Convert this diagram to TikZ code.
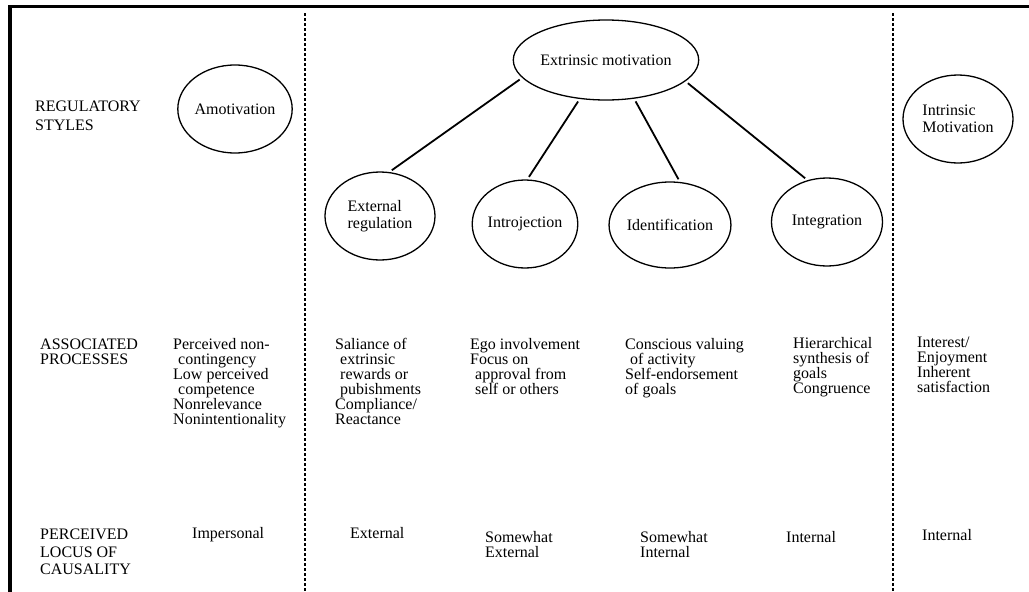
\documentclass[tikz,border=0pt]{standalone}
\usepackage{fontspec}
\setmainfont{Liberation Serif}
\usetikzlibrary{positioning,shapes}

\begin{document}
\begin{tikzpicture}[x=10pt,y=10pt]
\tikzstyle{every node}+=[inner sep=0pt]
\tikzstyle{motiv}=[draw, ellipse, line width=1.3pt, align=left, font=\fontsize{16}{17}\selectfont]
\tikzstyle{proc}=[anchor=north west, align=left, font=\fontsize{16}{15}\selectfont]
\tikzstyle{link}=[line width=1.8pt, shorten <=3pt, shorten >=3pt]
\tikzstyle{divider}=[line width=1.1pt, dash pattern=on 3pt off 2pt]
\useasboundingbox (0,0) rectangle (102.9,-59.2);
\draw [line width=3.5pt] (0.8,-0.65) -- (102.9,-0.65);
\draw [line width=3.5pt] (1.0,-0.65) -- (1.0,-59.2);
\draw [divider] (30.5,-1.3) -- (30.5,-59.2);
\draw [divider] (89.3,-1.3) -- (89.3,-59.2);
% regulatory styles
\node [motiv, minimum width=108pt, minimum height=88pt] (amot) at (23.5,-10.9) {Amotivation};
\node [motiv, minimum width=161pt, minimum height=80pt] (extr) at (60.6,-6.0) {Extrinsic motivation};
\node [motiv, minimum width=110pt, minimum height=88pt] (intr) at (95.8,-11.9) {Intrinsic\\Motivation};
\node [motiv, minimum width=110pt, minimum height=88pt] (extreg) at (38.0,-21.6) {External\\regulation};
\node [motiv, minimum width=104pt, minimum height=88pt] (introj) at (52.5,-22.4) {Introjection};
\node [motiv, minimum width=110pt, minimum height=86pt] (ident) at (67.0,-22.5) {Identification};
\node [motiv, minimum width=111pt, minimum height=88pt] (integ) at (82.7,-22.2) {Integration};
\draw [link] (extr.192) -- (extreg.78);
\draw [link] (extr.236) -- (introj.87);
\draw [link] (extr.306) -- (ident.77);
\draw [link] (extr.345) -- (integ.115);
% row heads
\node [proc, font=\fontsize{16}{19}\selectfont] (reghead) at (3.5,-10.1) {REGULATORY\\STYLES};
\node [proc] (prochead) at (4.0,-33.9) {ASSOCIATED\\PROCESSES};
\node [proc, font=\fontsize{16}{17.5}\selectfont] (locushead) at (4.0,-52.9) {PERCEIVED\\LOCUS OF\\CAUSALITY};
% associated processes
\node [proc] (amotproc) at (17.3,-33.8) {Perceived non-\\\hspace*{5pt}contingency\\Low perceived\\\hspace*{5pt}competence\\Nonrelevance\\Nonintentionality};
\node [proc] (extregproc) at (33.5,-33.8) {Saliance of\\\hspace*{5pt}extrinsic\\\hspace*{5pt}rewards or\\\hspace*{5pt}pubishments\\Compliance/\\Reactance};
\node [proc] (introjproc) at (47.0,-33.8) {Ego involvement\\Focus on\\\hspace*{5pt}approval from\\\hspace*{5pt}self or others};
\node [proc] (identproc) at (62.5,-33.8) {Conscious valuing\\\hspace*{5pt}of activity\\Self-endorsement\\of goals};
\node [proc] (integproc) at (79.3,-33.7) {Hierarchical\\synthesis of\\goals\\Congruence};
\node [proc] (intrproc) at (91.7,-33.7) {Interest/\\Enjoyment\\Inherent\\satisfaction};
% perceived locus of causality
\node [proc] (amotlocus) at (19.2,-52.7) {Impersonal};
\node [proc] (extreglocus) at (35.0,-52.7) {External};
\node [proc] (introjlocus) at (48.5,-53.1) {Somewhat\\External};
\node [proc] (identlocus) at (64.0,-53.1) {Somewhat\\Internal};
\node [proc] (integlocus) at (78.6,-53.1) {Internal};
\node [proc] (intrlocus) at (92.2,-52.9) {Internal};
\end{tikzpicture}
\end{document}
